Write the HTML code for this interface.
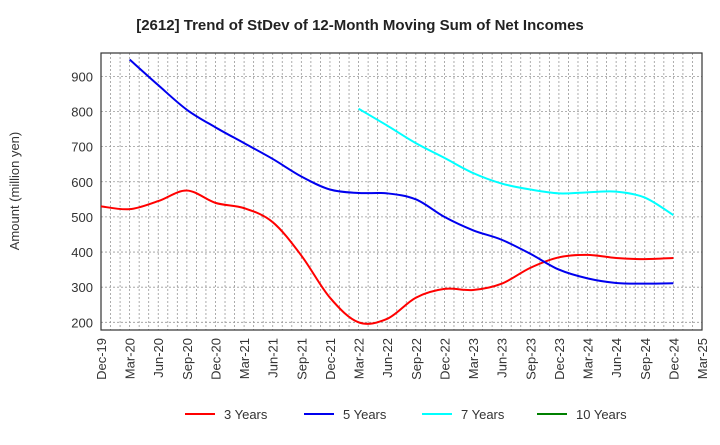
<!DOCTYPE html>
<html><head><meta charset="utf-8"><style>
body{margin:0;background:#fff;}
svg{font-family:"Liberation Sans",sans-serif;}
</style></head><body>
<svg width="720" height="440" id="c">
<text x="360" y="30" text-anchor="middle" font-size="15" font-weight="bold" fill="#222">[2612]  Trend of StDev of 12-Month Moving Sum of Net Incomes</text>
<text transform="translate(19,191) rotate(-90)" text-anchor="middle" font-size="13" fill="#333">Amount (million yen)</text>
<g id="grid"></g><g id="ax"></g><g id="series"></g><g id="legend"></g>
</svg>
<script>
const xLabels=["Dec-19","Mar-20","Jun-20","Sep-20","Dec-20","Mar-21","Jun-21","Sep-21","Dec-21","Mar-22","Jun-22","Sep-22","Dec-22","Mar-23","Jun-23","Sep-23","Dec-23","Mar-24","Jun-24","Sep-24","Dec-24","Mar-25"];
const yTicks=[200,300,400,500,600,700,800,900];
const s3=[530,522,545,575,540,525,485,390,270,200,210,270,295,292,310,355,385,392,383,380,383];
const s5=[null,948,875,805,755,710,665,615,578,568,567,550,500,462,435,395,350,325,312,310,311];
const s7=[null,null,null,null,null,null,null,null,null,808,760,710,668,625,595,578,567,570,572,555,505];
const s10=[];
const L=101,R=702,T=53,B=330;
const X=i=>L+(R-L)*i/21;
const Y=v=>322.3-(v-200)*0.3513;
const ns="http://www.w3.org/2000/svg";
function mk(t,a,p){const e=document.createElementNS(ns,t);for(const k in a)e.setAttribute(k,a[k]);p.appendChild(e);return e;}
const g=document.getElementById('grid'),ax=document.getElementById('ax'),se=document.getElementById('series'),lg=document.getElementById('legend');
for(let m=1;m<63;m++){const x=L+(R-L)*m/63;
const l=mk('line',{x1:x,x2:x,y1:T,y2:B,stroke:'#999','stroke-dasharray':'2,2','stroke-width':0.8},g);

}
yTicks.forEach(v=>{const l=mk('line',{x1:L,x2:R,y1:Y(v),y2:Y(v),stroke:'#999','stroke-dasharray':'2,2','stroke-width':0.8},g);


const t=mk('text',{x:L-8,y:Y(v)+5,'text-anchor':'end','font-size':13,fill:'#333'},ax);t.textContent=v;

});
const fr=mk('rect',{x:L,y:T,width:R-L,height:B-T,fill:'none',stroke:'#333','stroke-width':1.2},ax);


xLabels.forEach((s,i)=>{const t=mk('text',{transform:`translate(${X(i)+5},${B+8}) rotate(-90)`,'text-anchor':'end','font-size':13,fill:'#333'},ax);t.textContent=s;

});
function path(arr){const p=[];arr.forEach((v,i)=>{if(v!=null)p.push([X(i),Y(v)]);});if(p.length<2)return '';
let d=`M${p[0][0]},${p[0][1]}`;for(let i=0;i<p.length-1;i++){const p0=p[i-1]||p[i],p1=p[i],p2=p[i+1],p3=p[i+2]||p2;
d+=` C${p1[0]+(p2[0]-p0[0])/6},${p1[1]+(p2[1]-p0[1])/6} ${p2[0]-(p3[0]-p1[0])/6},${p2[1]-(p3[1]-p1[1])/6} ${p2[0]},${p2[1]}`;}return d;}
[[s3,'#ff0000','series-3-years'],[s5,'#0000ee','series-5-years'],[s7,'#00ffff','series-7-years'],[s10,'#008000','series-10-years']].forEach(([a,c,n])=>{
const d=path(a);if(!d)return;const e=mk('path',{d:d,fill:'none',stroke:c,'stroke-width':2},se);

});
[['3 Years','#ff0000',185],['5 Years','#0000ee',304],['7 Years','#00ffff',422],['10 Years','#008000',537]].forEach(([s,c,x])=>{
const gg=mk('g',{},lg);


mk('line',{x1:x,x2:x+30,y1:414,y2:414,stroke:c,'stroke-width':2},gg);
const t=mk('text',{x:x+39,y:419,'font-size':13,fill:'#333'},gg);t.textContent=s;});
</script>
</body></html>
